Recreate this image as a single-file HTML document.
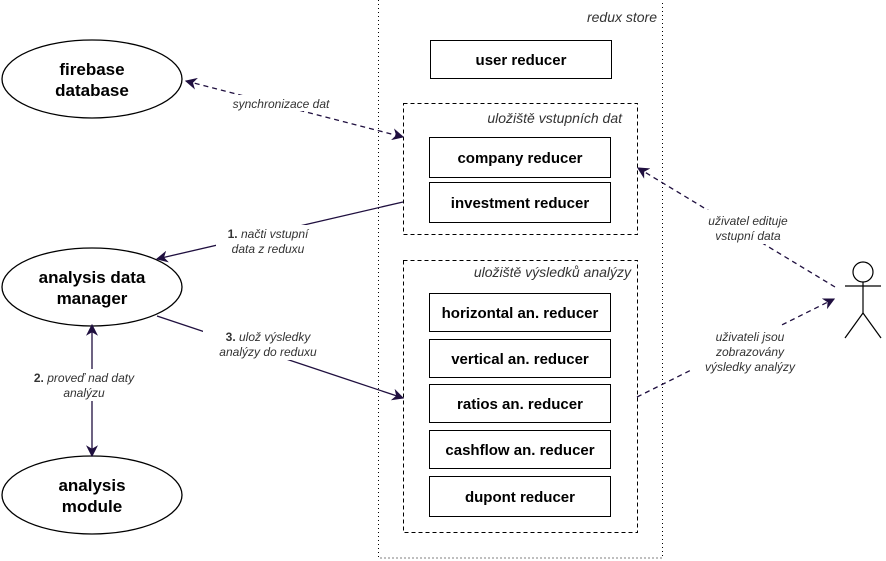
<!DOCTYPE html>
<html><head><meta charset="utf-8"><style>
html,body{margin:0;padding:0;background:#fff;}
svg{display:block;font-family:"Liberation Sans",Arial,sans-serif;}
.b{font-weight:bold;font-size:15px;text-anchor:middle;fill:#000}
.e{font-weight:bold;font-size:17px;text-anchor:middle;fill:#000}
.l{font-style:italic;font-size:12px;fill:#333;text-anchor:middle}
.t{font-style:italic;font-size:14px;fill:#333;text-anchor:end}
</style></head><body>
<svg width="886" height="561" viewBox="0 0 886 561" xmlns="http://www.w3.org/2000/svg">
<defs>
<marker id="a" viewBox="0 0 10 10" refX="9" refY="5" markerWidth="12" markerHeight="12" orient="auto-start-reverse" markerUnits="userSpaceOnUse"><path d="M0,0 L10,5 L0,10 L3,5 Z" fill="#1f0f3f"/></marker>
</defs>
<rect x="378.5" y="-1" width="284" height="559" fill="none" stroke="#000" stroke-dasharray="1,3"/>
<text class="t" x="657" y="22">redux store</text>
<rect x="430.5" y="40.5" width="181" height="38" fill="#fff" stroke="#000"/>
<text class="b" x="521" y="65">user reducer</text>
<rect x="403.5" y="103.5" width="234" height="131" fill="none" stroke="#000" stroke-dasharray="4,3"/>
<text class="t" x="622" y="123">uložiště vstupních dat</text>
<rect x="429.5" y="137.5" width="181" height="40" fill="#fff" stroke="#000"/>
<text class="b" x="520" y="163">company reducer</text>
<rect x="429.5" y="182.5" width="181" height="40" fill="#fff" stroke="#000"/>
<text class="b" x="520" y="208">investment reducer</text>
<rect x="403.5" y="260.5" width="234" height="272" fill="none" stroke="#000" stroke-dasharray="4,3"/>
<text class="t" x="631" y="277">uložiště výsledků analýzy</text>
<rect x="429.5" y="293.5" width="181" height="38" fill="#fff" stroke="#000"/>
<text class="b" x="520" y="318">horizontal an. reducer</text>
<rect x="429.5" y="339.5" width="181" height="38" fill="#fff" stroke="#000"/>
<text class="b" x="520" y="364">vertical an. reducer</text>
<rect x="429.5" y="384.5" width="181" height="38" fill="#fff" stroke="#000"/>
<text class="b" x="520" y="409">ratios an. reducer</text>
<rect x="429.5" y="430.5" width="181" height="38" fill="#fff" stroke="#000"/>
<text class="b" x="520" y="455">cashflow an. reducer</text>
<rect x="429.5" y="476.5" width="181" height="40" fill="#fff" stroke="#000"/>
<text class="b" x="520" y="502">dupont reducer</text>

<ellipse cx="92" cy="79" rx="90" ry="39" fill="#fff" stroke="#000" stroke-width="1.3"/>
<text class="e" x="92" y="75">firebase</text><text class="e" x="92" y="96">database</text>
<ellipse cx="92" cy="287" rx="90" ry="39" fill="#fff" stroke="#000" stroke-width="1.3"/>
<text class="e" x="92" y="283">analysis data</text><text class="e" x="92" y="304">manager</text>
<ellipse cx="92" cy="495" rx="90" ry="39" fill="#fff" stroke="#000" stroke-width="1.3"/>
<text class="e" x="92" y="491">analysis</text><text class="e" x="92" y="512">module</text>

<g stroke="#1f0f3f" stroke-width="1.3" fill="none">
<line x1="186" y1="81" x2="403" y2="137" stroke-dasharray="5,4" marker-start="url(#a)" marker-end="url(#a)"/>
<line x1="403" y1="202" x2="157" y2="259" marker-end="url(#a)"/>
<line x1="157" y1="316" x2="403" y2="398" marker-end="url(#a)"/>
<line x1="92" y1="325" x2="92" y2="456" marker-start="url(#a)" marker-end="url(#a)"/>
<line x1="835" y1="287" x2="638" y2="168" stroke-dasharray="5,4" marker-end="url(#a)"/>
<line x1="637" y1="397" x2="834" y2="299" stroke-dasharray="5,4" marker-end="url(#a)"/>
</g>
<g fill="#fff">
<rect x="224" y="95" width="116" height="16"/>
<rect x="216" y="225" width="104" height="32"/>
<rect x="203" y="328" width="130" height="32"/>
<rect x="28" y="369" width="114" height="32"/>
<rect x="698" y="210" width="100" height="34"/>
<rect x="693" y="326" width="116" height="49"/>
</g>
<text class="l" x="281" y="108">synchronizace dat</text>
<text class="l" x="268" y="238"><tspan font-weight="bold" font-style="normal">1.</tspan> načti vstupní</text>
<text class="l" x="268" y="253">data z reduxu</text>
<text class="l" x="268" y="341"><tspan font-weight="bold" font-style="normal">3.</tspan> ulož výsledky</text>
<text class="l" x="268" y="356">analýzy do reduxu</text>
<text class="l" x="84" y="382"><tspan font-weight="bold" font-style="normal">2.</tspan> proveď nad daty</text>
<text class="l" x="84" y="397">analýzu</text>
<text class="l" x="748" y="225">uživatel edituje</text>
<text class="l" x="748" y="240">vstupní data</text>
<text class="l" x="750" y="341">uživateli jsou</text>
<text class="l" x="750" y="356">zobrazovány</text>
<text class="l" x="750" y="371">výsledky analýzy</text>

<g stroke="#000" stroke-width="1.2" fill="none">
<circle cx="863" cy="272" r="10" fill="#fff"/>
<line x1="863" y1="282" x2="863" y2="313"/>
<line x1="845" y1="286" x2="881" y2="286"/>
<line x1="863" y1="313" x2="845" y2="338"/>
<line x1="863" y1="313" x2="881" y2="338"/>
</g>
</svg>
</body></html>
